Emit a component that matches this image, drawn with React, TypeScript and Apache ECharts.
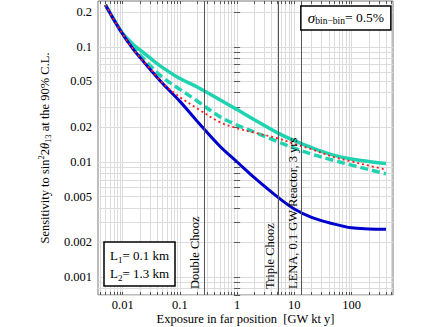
import React, { useEffect, useRef } from 'react';
import * as echarts from 'echarts';

// Exposure in far position [GW kt y]
const exposure = [0.005, 0.007, 0.01, 0.015, 0.02, 0.03, 0.05, 0.1, 0.2, 0.5, 1, 2, 5, 10, 20, 50, 100, 200, 400];
// Sensitivity to sin^2 2theta13 (90% C.L.)
const blueSolid = [0.231, 0.172, 0.129, 0.0966, 0.081, 0.064, 0.048, 0.0336, 0.0226, 0.0137, 0.0100, 0.0073, 0.0050, 0.0039, 0.0033, 0.00289, 0.00268, 0.00262, 0.0026];
const tealSolid = [0.232, 0.173, 0.131, 0.106, 0.094, 0.080, 0.066, 0.053, 0.0448, 0.0347, 0.0285, 0.0233, 0.018, 0.0153, 0.0133, 0.0114, 0.0106, 0.0101, 0.0097];
const tealDashed = [0.231, 0.172, 0.129, 0.099, 0.085, 0.069, 0.0542, 0.0427, 0.0339, 0.0247, 0.0209, 0.0182, 0.0151, 0.0132, 0.0117, 0.0103, 0.0094, 0.0086, 0.0079];
const redDotted = [0.231, 0.172, 0.129, 0.0966, 0.081, 0.065, 0.0483, 0.0366, 0.0292, 0.0222, 0.0196, 0.018, 0.0161, 0.0144, 0.0129, 0.0110, 0.0101, 0.0093, 0.0086];

// Reference experiments (vertical lines)
const reactorExposure = [0.266, 5.3, 13.1];
const reactorNames = ['Double Chooz', 'Triple Chooz', 'LENA, 0.1 GW Reactor, 3 yrs'];

// Tick labels
const xTickLabels = [0.01, 0.1, 1, 10, 100];
const yTickLabels = [0.2, 0.1, 0.05, 0.02, 0.01, 0.005, 0.002, 0.001];
const gridMantissas = [1, 2, 3, 4, 5, 6, 7, 8, 9];
const gridDecades = [-4, -3, -2, -1, 0, 1, 2];

const xRange = [0.0037, 530];
const yRange = [0.0007, 0.25];

const FONT = '"Liberation Serif", "DejaVu Serif", serif';

const lg = (v: number) => Math.log10(v);
const gridValues: number[] = [];
gridDecades.forEach((d) => gridMantissas.forEach((m) => gridValues.push(lg(m) + d)));

const fmt = (list: number[]) => (v: number) => {
  const hit = list.find((l) => Math.abs(lg(l) - v) < 1e-6);
  return hit === undefined ? '' : String(hit);
};

const toPts = (ys: number[]) => exposure.map((x, i) => [lg(x), lg(ys[i])]);

export default function App() {
  const ref = useRef<HTMLDivElement>(null);
  useEffect(() => {
    if (!ref.current) return;
    const chart = echarts.init(ref.current, undefined, { renderer: 'svg' });
    const baseAxisX = {
      type: 'value',
      min: lg(xRange[0]),
      max: lg(xRange[1]),
    };
    const baseAxisY = {
      type: 'value',
      min: lg(yRange[0]),
      max: lg(yRange[1]),
    };
    chart.setOption({
      animation: false,
      grid: {
        left: 98,
        right: 43,
        top: 1,
        bottom: 32,
        show: true,
        borderColor: '#7a7a7a',
        borderWidth: 1,
        backgroundColor: 'transparent',
        containLabel: false,
        outerBoundsMode: 'none',
      },
      title: [
        {
          right: 45,
          top: 5,
          padding: [4, 7, 4, 7],
          borderColor: '#000',
          borderWidth: 1.5,
          backgroundColor: '#fff',
          text: '{s|σ}{b|bin−bin}{t|= 0.5%}',
          textStyle: {
            fontFamily: FONT,
            fontWeight: 'normal',
            rich: {
              s: { fontFamily: FONT, fontStyle: 'italic', fontSize: 15, lineHeight: 17, color: '#000' },
              b: { fontFamily: FONT, fontSize: 9.5, lineHeight: 15, verticalAlign: 'bottom', color: '#000' },
              t: { fontFamily: FONT, fontSize: 13.5, lineHeight: 17, color: '#000' },
            },
          },
        },
        {
          left: 104,
          top: 242,
          padding: [4, 6, 4, 6],
          borderColor: '#000',
          borderWidth: 1.5,
          backgroundColor: '#fff',
          text: '{t|L}{sub|1}{t|= 0.1 km}\n{t|L}{sub|2}{t|= 1.3 km}',
          textStyle: {
            fontFamily: FONT,
            fontWeight: 'normal',
            lineHeight: 18,
            rich: {
              t: { fontFamily: FONT, fontSize: 13, lineHeight: 18, color: '#000' },
              sub: { fontFamily: FONT, fontSize: 9, lineHeight: 14, verticalAlign: 'bottom', color: '#000' },
            },
          },
        },
      ],
      xAxis: [
        {
          ...baseAxisX,
          position: 'bottom',
          axisLine: { show: false },
          axisTick: { show: true, inside: true, length: 3, customValues: gridValues, lineStyle: { color: '#555' } },
          splitLine: { show: true, lineStyle: { color: '#dcdcdc', width: 1 } },
          axisLabel: {
            customValues: xTickLabels.map(lg),
            formatter: fmt(xTickLabels),
            fontFamily: FONT,
            fontSize: 12.5,
            color: '#000',
            margin: 3,
          },
          name: 'Exposure in far position  [GW kt y]',
          nameLocation: 'middle',
          nameGap: 17,
          nameMoveOverlap: false,
          nameTextStyle: { fontFamily: FONT, fontSize: 12.5, color: '#000', verticalAlign: 'top' },
        },
        {
          ...baseAxisX,
          position: 'top',
          axisLine: { show: false },
          axisTick: { show: true, inside: true, length: 3, customValues: gridValues, lineStyle: { color: '#555' } },
          splitLine: { show: false },
          axisLabel: { show: false },
        },
      ],
      yAxis: [
        {
          ...baseAxisY,
          position: 'left',
          axisLine: { show: false },
          axisTick: { show: true, inside: true, length: 3, customValues: gridValues, lineStyle: { color: '#555' } },
          splitLine: { show: true, lineStyle: { color: '#dcdcdc', width: 1 } },
          axisLabel: {
            customValues: yTickLabels.map(lg),
            formatter: fmt(yTickLabels),
            fontFamily: FONT,
            fontSize: 12.5,
            color: '#000',
            margin: 6,
          },
          name: '{a|Sensitivity to sin}{sup|2}{a|2}{i|θ}{sub|13}{a| at the 90% C.L.}',
          nameLocation: 'middle',
          nameGap: 35,
          nameTextStyle: {
            fontFamily: FONT,
            fontSize: 12,
            color: '#000',
            rich: {
              a: { fontFamily: FONT, fontSize: 12.5, lineHeight: 16, color: '#000' },
              i: { fontFamily: FONT, fontSize: 12.5, fontStyle: 'italic', lineHeight: 16, color: '#000' },
              sup: { fontFamily: FONT, fontSize: 8.5, lineHeight: 10, verticalAlign: 'top', color: '#000' },
              sub: { fontFamily: FONT, fontSize: 8.5, lineHeight: 10, verticalAlign: 'bottom', color: '#000' },
            },
          },
        },
        {
          ...baseAxisY,
          position: 'right',
          axisLine: { show: false },
          axisTick: { show: true, inside: true, length: 3, customValues: gridValues, lineStyle: { color: '#555' } },
          splitLine: { show: false },
          axisLabel: { show: false },
        },
      ],
      series: [
        {
          type: 'line',
          data: [],
          silent: true,
          markLine: {
            silent: true,
            symbol: ['none', 'none'],
            lineStyle: { color: '#555', width: 1, type: 'solid' },
            label: {
              show: true,
              position: 'insideStartTop',
              distance: [6, 2],
              fontFamily: FONT,
              fontSize: 12.5,
              color: '#000',
            },
            data: reactorExposure.map((x, i) => ({
              xAxis: lg(x),
              label: { formatter: reactorNames[i] },
            })),
          },
        },
        {
          name: 'tealSolid',
          type: 'line',
          data: toPts(tealSolid),
          smooth: 0.35,
          showSymbol: false,
          lineStyle: { color: '#1fd3b1', width: 3.5, type: 'solid' },
        },
        {
          name: 'tealDashed',
          type: 'line',
          data: toPts(tealDashed),
          smooth: 0.35,
          showSymbol: false,
          lineStyle: { color: '#1fd3b1', width: 3.5, type: [8, 4] },
        },
        {
          name: 'blueSolid',
          type: 'line',
          data: toPts(blueSolid),
          smooth: 0.35,
          showSymbol: false,
          lineStyle: { color: '#0000cc', width: 3, type: 'solid' },
        },
        {
          name: 'redDotted',
          type: 'line',
          data: toPts(redDotted),
          smooth: 0.35,
          showSymbol: false,
          lineStyle: { color: '#ff1a1a', width: 1.8, type: [2, 3] },
        },
      ],
    });
    return () => chart.dispose();
  }, []);
  return <div ref={ref} style={{ position: 'fixed', left: 0, top: 0, width: 436, height: 327, background: '#fff' }} />;
}
